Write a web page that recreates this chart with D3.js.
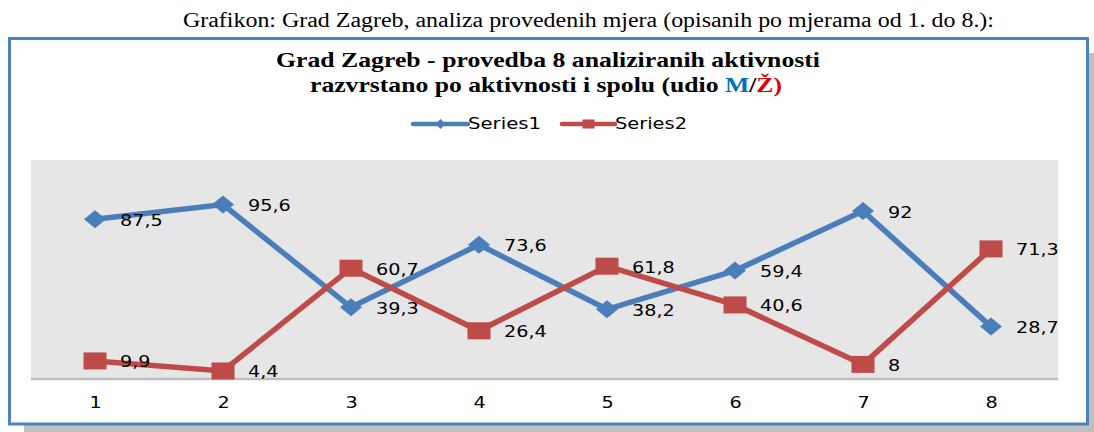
<!DOCTYPE html>
<html><head><meta charset="utf-8">
<script src="https://cdn.jsdelivr.net/npm/d3@7"></script>
<style>html,body{margin:0;padding:0;background:#fff;}svg{display:block;}</style>
</head><body>
<script>
const categories = ["1","2","3","4","5","6","7","8"];
const series1 = [87.5, 95.6, 39.3, 73.6, 38.2, 59.4, 92, 28.7];
const series2 = [9.9, 4.4, 60.7, 26.4, 61.8, 40.6, 8, 71.3];
const seriesNames = ["Series1", "Series2"];
const yDomain = [0, 120];

const W = 1094, H = 432;
const svg = d3.select("body").append("svg").attr("width", W).attr("height", H);
const blue = "#4a7ebb", red = "#be4b48";
const fmt = v => String(v).replace(".", ",");

// caption
svg.append("text").attr("x", 183).attr("y", 27)
  .attr("font-family", "Liberation Serif, Times New Roman, serif").attr("font-size", 20)
  .attr("textLength", 811).attr("lengthAdjust", "spacingAndGlyphs").attr("fill", "#000")
  .text("Grafikon: Grad Zagreb, analiza provedenih mjera (opisanih po mjerama od 1. do 8.):");

// shadow
svg.append("rect").attr("x", 24).attr("y", 53).attr("width", W - 24).attr("height", H - 53).attr("fill", "#c0c0c0");
// box
svg.append("rect").attr("x", 9.5).attr("y", 38.5).attr("width", 1078).attr("height", 385.5)
  .attr("fill", "#fff").attr("stroke", "#4f81bd").attr("stroke-width", 3);

// title
const tf = "Liberation Serif, Times New Roman, serif";
svg.append("text").attr("x", 276).attr("y", 67).attr("font-family", tf).attr("font-weight", "bold")
  .attr("font-size", 21).attr("textLength", 544).attr("lengthAdjust", "spacingAndGlyphs").attr("fill", "#000")
  .text("Grad Zagreb - provedba 8 analiziranih  aktivnosti");
const t2 = svg.append("text").attr("x", 310).attr("y", 92).attr("font-family", tf).attr("font-weight", "bold")
  .attr("font-size", 21).attr("textLength", 472).attr("lengthAdjust", "spacingAndGlyphs").attr("fill", "#000");
t2.append("tspan").text("razvrstano po aktivnosti i spolu (udio ");
t2.append("tspan").attr("fill", "#0070c0").text("M");
t2.append("tspan").text("/");
t2.append("tspan").attr("fill", "#e00000").text("Ž)");

// plot area
const x = d3.scalePoint().domain(categories).range([95, 991]);
const y = d3.scaleLinear().domain(yDomain).range([379, 160]);
svg.append("rect").attr("x", 31).attr("y", y(yDomain[1])).attr("width", 1027).attr("height", y(0) - y(yDomain[1])).attr("fill", "#e6e6e6");
svg.append("line").attr("x1", 31).attr("x2", 1058).attr("y1", y(0)).attr("y2", y(0)).attr("stroke", "#bfbfbf").attr("stroke-width", 2.5);

// x axis labels
const axis = d3.axisBottom(x).tickSize(0).tickPadding(0);
const ag = svg.append("g").attr("transform", `translate(0,${y(0)})`).call(axis);
ag.select(".domain").remove();
ag.selectAll("text").attr("font-family", "DejaVu Sans, sans-serif").attr("font-size", 16).attr("fill", "#000")
  .attr("dy", null).attr("y", null).attr("transform", "translate(0,29) scale(1.2,1)");

const line = d3.line().x((d, i) => x(categories[i])).y(d => y(d));
const data = [series1, series2];
const colors = [blue, red];

data.forEach((s, k) => {
  svg.append("path").datum(s).attr("d", line).attr("fill", "none").attr("stroke", colors[k])
    .attr("stroke-width", 5.5).attr("stroke-linejoin", "miter");
  const g = svg.append("g");
  s.forEach((v, i) => {
    const cx = x(categories[i]), cy = y(v);
    if (k === 0) {
      g.append("path").attr("d", `M${cx - 11},${cy} L${cx},${cy - 9} L${cx + 11},${cy} L${cx},${cy + 9} Z`).attr("fill", blue);
    } else {
      g.append("rect").attr("x", cx - 11.5).attr("y", cy - 8.5).attr("width", 23).attr("height", 17).attr("fill", red);
    }
  });
});
data.forEach((s, k) => {
  s.forEach((v, i) => {
    const cx = x(categories[i]), cy = y(v);
    svg.append("text").attr("transform", `translate(${cx + 25},${cy + 6.5}) scale(1.2,1)`)
      .attr("font-family", "DejaVu Sans, sans-serif").attr("font-size", 16).attr("fill", "#000")
      .text(fmt(v));
  });
});

// legend
const leg = [{x0: 413, x1: 468, tx: 468, tw: 73}, {x0: 562, x1: 615, tx: 615, tw: 72}];
leg.forEach((L, k) => {
  svg.append("line").attr("x1", L.x0).attr("x2", L.x1).attr("y1", 124).attr("y2", 124)
    .attr("stroke", colors[k]).attr("stroke-width", 4.5).attr("stroke-linecap", "round");
  const m = (L.x0 + L.x1) / 2;
  if (k === 0) svg.append("path").attr("d", `M${m - 5},124 L${m},119 L${m + 5},124 L${m},129 Z`).attr("fill", blue);
  else svg.append("rect").attr("x", m - 6).attr("y", 119.5).attr("width", 12).attr("height", 9).attr("fill", red);
  svg.append("text").attr("x", L.tx).attr("y", 129).attr("font-family", "DejaVu Sans, sans-serif")
    .attr("font-size", 16).attr("textLength", L.tw).attr("lengthAdjust", "spacingAndGlyphs").attr("fill", "#000")
    .text(seriesNames[k]);
});
</script>
</body></html>
